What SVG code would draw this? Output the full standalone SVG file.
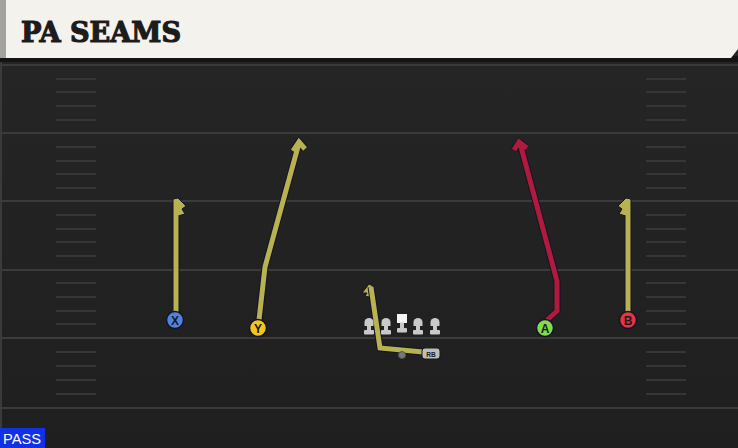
<svg xmlns="http://www.w3.org/2000/svg" width="738" height="448" viewBox="0 0 738 448">
<defs>
<style>
.yard{stroke:#3b3b3b;stroke-width:2}
.hash{stroke:#363636;stroke-width:2}
.rt-out{fill:none;stroke:#141428;stroke-width:7;stroke-linejoin:miter;stroke-linecap:butt}
.rt-y{fill:none;stroke:#b8b350;stroke-width:5;stroke-linejoin:miter}
.rt-r{fill:none;stroke:#b01a3c;stroke-width:5;stroke-linejoin:miter}
.flag-y{fill:#b8b350;stroke:#141428;stroke-width:1;stroke-linejoin:miter}
.lbl{font-family:"Liberation Sans",Arial,sans-serif;font-weight:bold;fill:#1a1a1a;text-anchor:middle}
.ol{fill:#c9c9c9}
.pl{stroke:#141428;stroke-width:1.5}
</style>
<linearGradient id="fieldg" x1="0" y1="0" x2="0" y2="1">
<stop offset="0" stop-color="#262626"/>
<stop offset="1" stop-color="#1f1f1f"/>
</linearGradient>
<g id="lineman">
<path d="M-4.5,8 V4 A4.5,4 0 0 1 4.5,4 V8 Z" class="ol"/>
<rect x="-2" y="7.5" width="4" height="5" class="ol"/>
<rect x="-5" y="12" width="10" height="4.5" rx="1" class="ol"/>
</g>
</defs>
<rect width="738" height="448" fill="url(#fieldg)"/>
<rect x="0" y="60" width="2" height="388" fill="#3a3a3a"/>
<!-- title bar -->
<rect x="0" y="56" width="738" height="6" fill="#141414"/>
<g id="title">
<path d="M0,0 H738 V49 L731,58 H0 Z" fill="#f4f2ec"/>
<rect x="0" y="0" width="6" height="58" fill="#a3a39e"/>
<text x="21" y="42" font-family="'DejaVu Serif',serif" font-weight="900" font-size="27" fill="#1c1c1c" stroke="#1c1c1c" stroke-width="1.2" textLength="160" lengthAdjust="spacingAndGlyphs">PA SEAMS</text>
</g>
<!-- field lines -->
<g id="field">
<line class="yard" x1="0" y1="65" x2="738" y2="65"/>
<line class="yard" x1="0" y1="133" x2="738" y2="133"/>
<line class="yard" x1="0" y1="201" x2="738" y2="201"/>
<line class="yard" x1="0" y1="270" x2="738" y2="270"/>
<line class="yard" x1="0" y1="338" x2="738" y2="338"/>
<line class="yard" x1="0" y1="408" x2="738" y2="408"/>
<g class="hash">
<path d="M56,79H96M56,92H96M56,106H96M56,120H96M56,147H96M56,161H96M56,174H96M56,188H96M56,215H96M56,229H96M56,242H96M56,256H96M56,283H96M56,297H96M56,311H96M56,324H96M56,352H96M56,366H96M56,380H96M56,394H96"/>
<path d="M646,79H686M646,92H686M646,106H686M646,120H686M646,147H686M646,161H686M646,174H686M646,188H686M646,215H686M646,229H686M646,242H686M646,256H686M646,283H686M646,297H686M646,311H686M646,324H686M646,352H686M646,366H686M646,380H686M646,394H686"/>
</g>
</g>
<!-- routes -->
<g id="connectors">
<!-- X -->
<path class="rt-out" d="M176,313 V200"/>
<path class="flag-y" d="M173,199 L178,198 L186,206 L182,209 L185,214 L178,216 Z"/>
<path class="rt-y" d="M176,313 V200"/>
<!-- Y -->
<path class="rt-out" d="M259,320 L265,267 L299,143 M293,151 L299,142 L305,149"/>
<path class="rt-y" d="M259,320 L265,267 L299,143 M293,151 L299,142 L305,149"/>
<!-- A -->
<path class="rt-out" d="M547,320 L557,311 L557,281 L520,143 M514,150 L519,142 L527,148"/>
<path class="rt-r" d="M547,320 L557,311 L557,281 L520,143 M514,150 L519,142 L527,148"/>
<!-- B -->
<path class="rt-out" d="M628,313 V200"/>
<path class="flag-y" d="M631,199 L626,198 L618,206 L622,209 L619,214 L626,216 Z"/>
<path class="rt-y" d="M628,313 V200"/>
<!-- RB -->
<path class="flag-y" d="M369,284 L373,286 L373,298 L365,296 L367,293 L362,293 Z"/>
<path class="rt-out" d="M423,352 L380,348 L371,287"/>
<path class="rt-y" d="M423,352 L380,348 L371,287"/>
</g>
<!-- offensive line -->
<g id="oline">
<use href="#lineman" x="369" y="318"/>
<use href="#lineman" x="386" y="318"/>
<g id="center">
<rect x="397" y="314" width="10" height="9" fill="#f4f4f4"/>
<rect x="400" y="322.5" width="4" height="6" class="ol"/>
<rect x="397" y="328" width="10" height="4.5" rx="1" class="ol"/>
</g>
<use href="#lineman" x="418" y="318"/>
<use href="#lineman" x="435" y="318"/>
</g>
<g id="qb"><circle cx="402" cy="355" r="3.5" fill="#777" stroke="#555" stroke-width="1"/></g>
<g id="rb">
<rect x="422" y="348" width="18" height="11" rx="3" fill="#bdbdbd" stroke="#1a1a1a" stroke-width="1"/>
<text x="431" y="356.5" class="lbl" font-size="6.5">RB</text>
</g>
<!-- players -->
<g id="X"><circle cx="175" cy="320" r="8.5" fill="#4f84dc" class="pl"/><text x="175" y="324.5" class="lbl" font-size="12">X</text></g>
<g id="Y"><circle cx="258" cy="328" r="8.5" fill="#f2c61f" class="pl"/><text x="258" y="332.5" class="lbl" font-size="12">Y</text></g>
<g id="A"><circle cx="545" cy="328" r="8.5" fill="#7fdc4c" class="pl"/><text x="545" y="332.5" class="lbl" font-size="12">A</text></g>
<g id="B"><circle cx="628" cy="320" r="8.5" fill="#e8323f" class="pl"/><text x="628" y="324.5" class="lbl" font-size="12">B</text></g>
<!-- PASS -->
<g id="pass">
<rect x="0" y="428" width="45" height="20" fill="#1230e6"/>
<text x="3" y="444" font-family="'Liberation Sans',Arial,sans-serif" font-size="15" fill="#ffffff" textLength="38" lengthAdjust="spacingAndGlyphs">PASS</text>
</g>
</svg>
